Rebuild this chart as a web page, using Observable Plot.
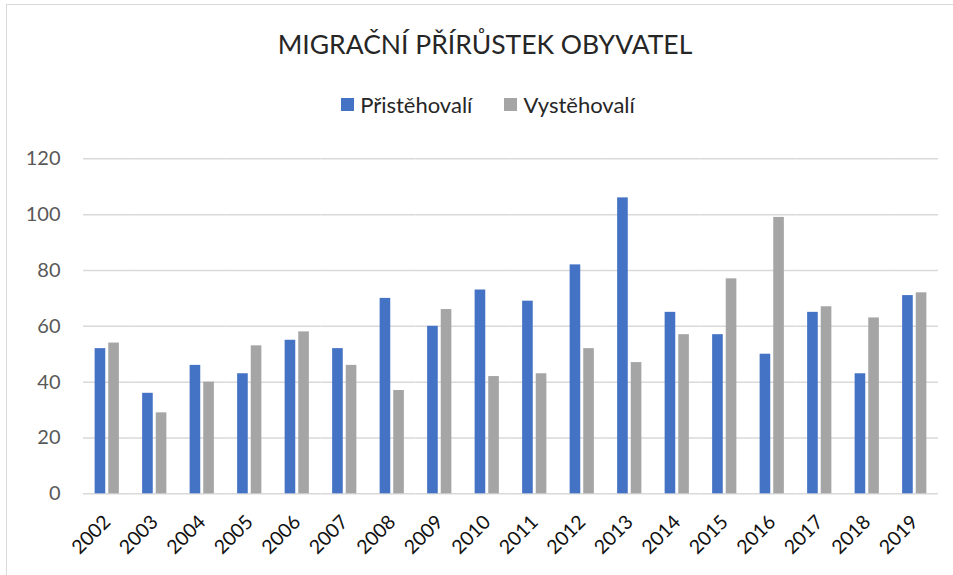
<!DOCTYPE html>
<html>
<head>
<meta charset="utf-8">
<script src="https://cdn.jsdelivr.net/npm/d3@7"></script>
<script src="https://cdn.jsdelivr.net/npm/@observablehq/plot@0.6"></script>
<style>
  html, body { margin: 0; padding: 0; background: #fff; }
  body { width: 953px; height: 575px; overflow: hidden; position: relative; font-family: Lato, "Noto Sans", sans-serif; }
  #frame { position: absolute; left: 6px; top: 4px; width: 1000px; height: 700px; border: 1.5px solid #d9d9d9; box-sizing: border-box; }
  #header { position: absolute; left: 0; top: 0; width: 953px; height: 140px; }
  #title { position: absolute; left: 0; width: 970px; top: 28px; text-align: center; font-size: 26.5px; color: #262626; }
  #legend { position: absolute; left: 0; width: 976px; top: 91px; display: flex; justify-content: center; align-items: center; font-size: 22px; color: #262626; }
  .item { display: flex; align-items: center; }
  .item + .item { margin-left: 32px; }
  .sw { width: 13px; height: 13px; margin-right: 6px; }
  #chart { position: absolute; left: 0; top: 140px; }
</style>
</head>
<body>
<div id="frame"></div>
<div id="header">
  <div id="title">MIGRAČNÍ PŘÍRŮSTEK OBYVATEL</div>
  <div id="legend"></div>
</div>
<div id="chart"></div>
<script>
const years = ["2002","2003","2004","2005","2006","2007","2008","2009","2010","2011","2012","2013","2014","2015","2016","2017","2018","2019"];
const seriesNames = ["Přistěhovalí", "Vystěhovalí"];
const seriesColors = ["#4472C4", "#A5A5A5"];
const pristehovali = [52,36,46,43,55,52,70,60,73,69,82,106,65,57,50,65,43,71];
const vystehovali  = [54,29,40,53,58,46,37,66,42,43,52,47,57,77,99,67,63,72];
const yTicks = [0,20,40,60,80,100,120];

const data = [];
years.forEach((yr, i) => {
  data.push({year: yr, series: seriesNames[0], value: pristehovali[i]});
  data.push({year: yr, series: seriesNames[1], value: vystehovali[i]});
});

// legend
const legend = document.getElementById("legend");
seriesNames.forEach((name, i) => {
  const it = document.createElement("div");
  it.className = "item";
  const sw = document.createElement("div");
  sw.className = "sw";
  sw.style.background = seriesColors[i];
  const t = document.createElement("span");
  t.textContent = name;
  it.appendChild(sw); it.appendChild(t);
  legend.appendChild(it);
});

const chart = Plot.plot({
  width: 953,
  height: 435,
  marginLeft: 83,
  marginRight: 15,
  marginTop: 18.3,
  marginBottom: 81.7,
  style: {fontFamily: "Lato, 'Noto Sans', sans-serif", background: "transparent"},
  fx: {domain: years, padding: 0, round: false, label: null},
  x: {domain: seriesNames, paddingInner: 0.22, paddingOuter: 0.855, round: false, axis: null},
  y: {domain: [0, 120], ticks: yTicks, label: null},
  color: {domain: seriesNames, range: seriesColors},
  marks: [
    Plot.gridY(yTicks, {stroke: "#d9d9d9", strokeOpacity: 1, strokeWidth: 1.5}),
    Plot.barY(data, {fx: "year", x: "series", y: "value", fill: "series"}),
    Plot.axisY(yTicks, {tickSize: 0, tickPadding: 23, fontSize: 20, fill: "#595959", label: null}),
    Plot.axisFx({anchor: "bottom", tickSize: 0, tickPadding: 25, tickRotate: -45, fontSize: 19.5, fill: "#111", label: null})
  ]
});
document.getElementById("chart").appendChild(chart);
</script>
</body>
</html>
